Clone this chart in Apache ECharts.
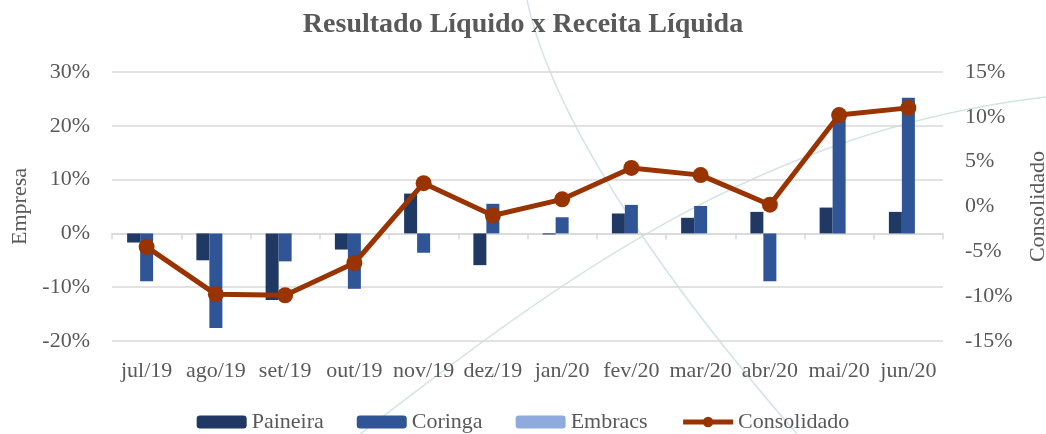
<!DOCTYPE html>
<html>
<head>
<meta charset="utf-8">
<script src="https://cdn.jsdelivr.net/npm/echarts@6/dist/echarts.min.js"></script>
<style>
    html, body { margin: 0; padding: 0; background: #fff; }
    #chart { width: 1046px; height: 434px; }
</style>
</head>
<body>
<div id="chart"></div>
<script>
// dados (em %)
const meses = ['jul/19', 'ago/19', 'set/19', 'out/19', 'nov/19', 'dez/19', 'jan/20', 'fev/20', 'mar/20', 'abr/20', 'mai/20', 'jun/20']
const paineira = [-1.7, -5.0, -12.4, -3.0, 7.4, -5.9, -0.2, 3.7, 2.9, 4.0, 4.8, 4.0]
const coringa = [-8.9, -17.6, -5.2, -10.3, -3.6, 5.5, 3.0, 5.3, 5.1, -8.9, 21.9, 25.2]
const embracs = [0, 0, 0, 0, 0, 0, 0, 0, 0, 0, 0, 0]
const consolidado = [-4.5, -9.8, -9.9, -6.3, 2.6, -1.0, 0.8, 4.3, 3.5, 0.2, 10.2, 11.0]

const fonte = 'Liberation Serif'
const corTexto = '#595959'
const corGrade = '#d9d9d9'
const corLinha = '#993300'

const myChart = echarts.init(document.getElementById('chart'))

const barra = (name, data, color) => ({
    name: name,
    type: 'bar',
    data: data,
    barWidth: 13,
    barGap: '0%',
    itemStyle: { color: color },
    yAxisIndex: 0,
})

myChart.setOption({
    animation: false,
    textStyle: { fontFamily: fonte },
    // arcos decorativos do fundo
    graphic: [
        {
            type: 'bezierCurve', z: -10, silent: true,
            shape: { x1: 360, y1: 434, cpx1: 560, cpy1: 280, cpx2: 760, cpy2: 130, x2: 1046, y2: 97 },
            style: { stroke: '#d3e4e4', lineWidth: 1.5, fill: null }
        },
        {
            type: 'bezierCurve', z: -10, silent: true,
            shape: { x1: 527, y1: 0, cpx1: 555, cpy1: 130, cpx2: 680, cpy2: 300, x2: 797, y2: 434 },
            style: { stroke: '#d3e4e4', lineWidth: 1.5, fill: null }
        }
    ],
    title: {
        text: 'Resultado Líquido x Receita Líquida',
        left: 'center',
        top: 6,
        textStyle: { fontFamily: fonte, fontSize: 28, fontWeight: 'bold', color: corTexto }
    },
    legend: {
        top: 406,
        left: 'center',
        itemWidth: 50,
        itemHeight: 13,
        itemGap: 33,
        textStyle: { fontFamily: fonte, fontSize: 22, color: corTexto },
        data: [
            'Paineira', 'Coringa', 'Embracs',
            { name: 'Consolidado', lineStyle: { width: 5 } }
        ]
    },
    grid: { left: 112, right: 103, top: 72, bottom: 93, outerBoundsMode: 'none' },
    xAxis: [
        {
            type: 'category',
            data: meses,
            position: 'bottom',
            axisLine: { show: false, onZero: false },
            axisTick: { show: false },
            axisLabel: { interval: 0, margin: 19, fontSize: 22, color: corTexto, fontFamily: fonte },
        },
        {
            type: 'category',
            data: meses,
            position: 'bottom',
            axisLine: { show: true, onZero: true, onZeroAxisIndex: 0, lineStyle: { color: corGrade, width: 1.5 } },
            axisTick: { show: true, length: 6, lineStyle: { color: corGrade, width: 1.5 } },
            axisLabel: { show: false },
            splitLine: { show: false },
        }
    ],
    yAxis: [
        {
            type: 'value',
            name: 'Empresa',
            nameLocation: 'middle',
            nameRotate: 90,
            nameGap: 78,
            nameTextStyle: { fontFamily: fonte, fontSize: 22, color: corTexto },
            min: -20, max: 30, interval: 10,
            axisLine: { show: false },
            axisTick: { show: false },
            axisLabel: { formatter: '{value}%', margin: 22, fontSize: 22, color: corTexto, fontFamily: fonte },
            splitLine: { lineStyle: { color: corGrade, width: 1.5 } },
        },
        {
            type: 'value',
            name: 'Consolidado',
            nameLocation: 'middle',
            nameRotate: 90,
            nameGap: 84,
            nameTextStyle: { fontFamily: fonte, fontSize: 22, color: corTexto },
            min: -15, max: 15, interval: 5,
            axisLine: { show: false },
            axisTick: { show: false },
            axisLabel: { formatter: '{value}%', margin: 22, fontSize: 22, color: corTexto, fontFamily: fonte },
            splitLine: { show: false },
        }
    ],
    series: [
        barra('Paineira', paineira, '#203864'),
        barra('Coringa', coringa, '#2f5597'),
        barra('Embracs', embracs, '#8faadc'),
        {
            name: 'Consolidado',
            type: 'line',
            data: consolidado,
            yAxisIndex: 1,
            symbol: 'circle',
            symbolSize: 16,
            lineStyle: { width: 5, color: corLinha },
            itemStyle: { color: corLinha },
            z: 5,
        }
    ]
})
window.addEventListener('resize', myChart.resize)
</script>
</body>
</html>
